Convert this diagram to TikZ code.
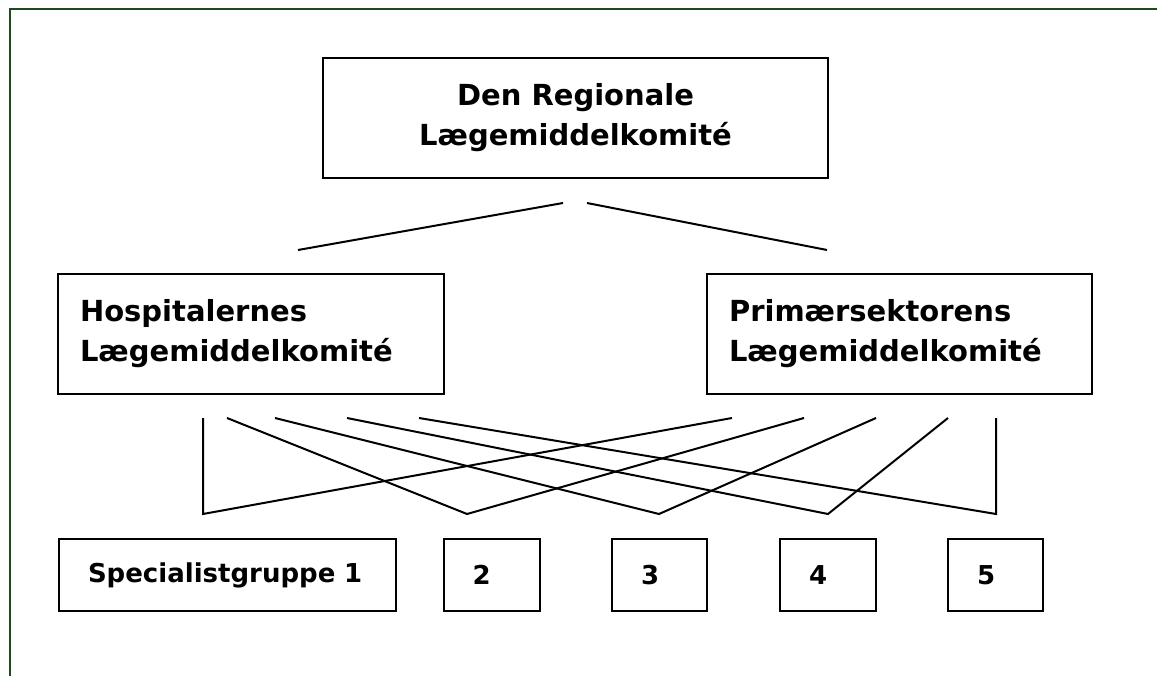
\documentclass[tikz,border=0pt]{standalone}
\usepackage{fontspec}
\setmainfont{DejaVu Sans}
\definecolor{framegreen}{RGB}{31,73,31}
\begin{document}
\begin{tikzpicture}[x=1pt,y=-1pt,
  boxstyle/.style={draw=black,line width=2pt,inner xsep=0pt,inner ysep=0pt,font=\bfseries},
  bigtext/.style={font=\fontsize{29}{40}\selectfont\bfseries},
  smalltext/.style={font=\fontsize{26}{30}\selectfont\bfseries},
  conn/.style={draw=black,line width=2pt,line join=miter}]
\useasboundingbox (0,0) rectangle (1157,676);
\draw[framegreen,line width=2.5pt] (10,676) -- (10,9) -- (1157,9);
% top box
\node[boxstyle,bigtext,minimum width=505,minimum height=120,align=center] (top) at (575.5,118)
  {Den Regionale\\Lægemiddelkomité};
% middle boxes
\node[boxstyle,bigtext,minimum width=386,minimum height=120,text width=342,align=left] (hosp) at (251,334)
  {Hospitalernes\\Lægemiddelkomité};
\node[boxstyle,bigtext,minimum width=385,minimum height=120,text width=341,align=left] (prim) at (899.5,334)
  {Primærsektorens\\Lægemiddelkomité};
% bottom boxes
\node[boxstyle,smalltext,minimum width=337,minimum height=72,text width=279,align=left] (s1) at (227.5,575) {Specialistgruppe 1};
\node[boxstyle,smalltext,minimum width=96,minimum height=72,text width=38,align=left] (s2) at (491.5,575) {2};
\node[boxstyle,smalltext,minimum width=95,minimum height=72,text width=37,align=left] (s3) at (659.5,575) {3};
\node[boxstyle,smalltext,minimum width=96,minimum height=72,text width=38,align=left] (s4) at (828,575) {4};
\node[boxstyle,smalltext,minimum width=95,minimum height=72,text width=37,align=left] (s5) at (995.5,575) {5};
% connector end points
\coordinate (tl) at (563,203);
\coordinate (tr) at (587,203);
\coordinate (ml) at (298,250);
\coordinate (mr) at (827,250);
\draw[conn] (ml) -- (tl);
\draw[conn] (tr) -- (mr);
\coordinate (h1) at (203,418);
\coordinate (h2) at (227,418);
\coordinate (h3) at (275,418);
\coordinate (h4) at (347,418);
\coordinate (h5) at (419,418);
\coordinate (p1) at (732,418);
\coordinate (p2) at (804,418);
\coordinate (p3) at (876,418);
\coordinate (p4) at (948,418);
\coordinate (p5) at (996,418);
\coordinate (j1) at (203,514);
\coordinate (j2) at (467,514);
\coordinate (j3) at (659,514);
\coordinate (j4) at (828,514);
\coordinate (j5) at (996,514);
\draw[conn] (h1) -- (j1) -- (p1);
\draw[conn] (h2) -- (j2) -- (p2);
\draw[conn] (h3) -- (j3) -- (p3);
\draw[conn] (h4) -- (j4) -- (p4);
\draw[conn] (h5) -- (j5) -- (p5);
\end{tikzpicture}
\end{document}
